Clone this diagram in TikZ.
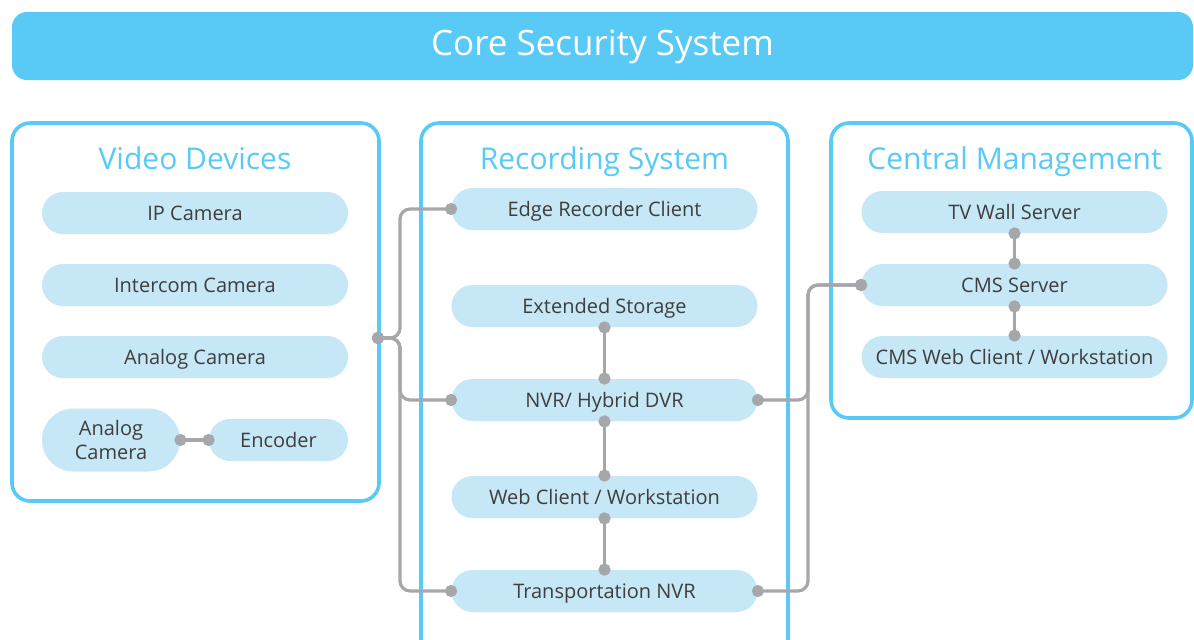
\documentclass[tikz,border=0pt]{standalone}
\usepackage{fontspec}
\setmainfont{Open Sans}
\usetikzlibrary{shapes.misc,arrows.meta}

\definecolor{skyblue}{HTML}{59CAF5}
\definecolor{pillblue}{HTML}{C6E7F6}
\definecolor{linegray}{HTML}{A6A7AA}
\definecolor{txtgray}{HTML}{3E3E3E}

\tikzset{
  frame/.style={draw=skyblue, line width=1.8pt, rounded corners=9pt},
  heading/.style={text=skyblue, font=\fontsize{15}{17}\selectfont,
    text height=0.85em, text depth=0.1em},
  pill/.style={rounded rectangle, fill=pillblue, text=txtgray, inner sep=0pt,
    minimum width=153pt, minimum height=21pt, font=\fontsize{10}{12}\selectfont,
    text height=0.85em, text depth=0.1em},
  link/.style={draw=linegray, line width=1.6pt,
    {Circle[length=6pt]}-{Circle[length=6pt]}, shorten <=-3pt, shorten >=-3pt},
  bus/.style={link, rounded corners=5pt}
}

\begin{document}
\begin{tikzpicture}[x=0.5pt,y=-0.5pt]
\clip (0,0) rectangle (1194,639);
\fill[white] (0,0) rectangle (1194,639);

% title bar
\node[fill=skyblue, rounded corners=7.5pt, minimum width=590.5pt, minimum height=34pt,
  text=white, font=\fontsize{17.5}{20}\selectfont, text height=1em, text depth=0.02em]
  (core) at (602.5,46) {Core Security System};

% group frames
\draw[frame] (12,123) rectangle (379,501);
\draw[frame] (421,123) rectangle (788,680);
\draw[frame] (831,123) rectangle (1192,418);

\node[heading] (hvid) at (195,162) {Video Devices};
\node[heading] (hrec) at (604.5,162) {Recording System};
\node[heading] (hcen) at (1014.5,162) {Central Management};

% video devices
\node[pill] (ipcam) at (195,213) {IP Camera};
\node[pill] (intcam) at (195,285) {Intercom Camera};
\node[pill] (anacam) at (195,357) {Analog Camera};
\node[pill, minimum width=69pt, minimum height=31.5pt, align=center,
  text height=, text depth=] (acam) at (111,440) {Analog\\Camera};
\node[pill, minimum width=69.5pt] (enc) at (278.5,440) {Encoder};

% recording system
\node[pill] (edge) at (604.5,209) {Edge Recorder Client};
\node[pill] (ext) at (604.5,306) {Extended Storage};
\node[pill] (nvr) at (604.5,400) {NVR/ Hybrid DVR};
\node[pill] (web) at (604.5,497) {Web Client / Workstation};
\node[pill] (trans) at (604.5,591) {Transportation NVR};

% central management
\node[pill] (tvw) at (1014.5,212) {TV Wall Server};
\node[pill] (cms) at (1014.5,285) {CMS Server};
\node[pill] (cmsweb) at (1014.5,357) {CMS Web Client / Workstation};

% connectors
\coordinate (hub) at (378,338);
\coordinate (lsplit) at (400,338);
\coordinate (rbus) at (808,338);

\draw[link] (acam.east) -- (enc.west);
\draw[link] (ext.south) -- (nvr.north);
\draw[link] (nvr.south) -- (web.north);
\draw[link] (web.south) -- (trans.north);
\draw[link] (tvw.south) -- (cms.north);
\draw[link] (cms.south) -- (cmsweb.north);

\draw[bus] (hub) -- (lsplit) |- (edge.west);
\draw[bus] (hub) -- (lsplit) |- (nvr.west);
\draw[bus] (hub) -- (lsplit) |- (trans.west);

\draw[bus] (nvr.east) -| (rbus |- cms.west) -- (cms.west);
\draw[bus] (trans.east) -| (rbus |- cms.west) -- (cms.west);
\end{tikzpicture}
\end{document}
